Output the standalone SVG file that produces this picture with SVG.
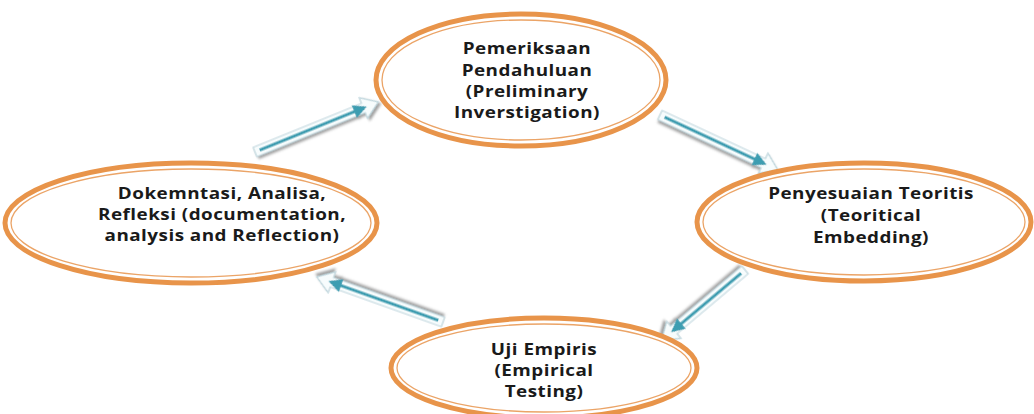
<svg xmlns="http://www.w3.org/2000/svg" width="1034" height="414" viewBox="0 0 1034 414">
<style>
.outer{fill:#ffffff;stroke:#e8944a;stroke-width:5}
.inner{fill:none;stroke:#eba467;stroke-width:1.3}
.lbl{font-family:"Open Sans","Liberation Sans",sans-serif;font-weight:bold;font-size:16px;fill:#1a1a1a;text-anchor:middle;letter-spacing:0.4px}
.blk{fill:#f7fcfd;stroke:#bfd6dd;stroke-width:1.2}
.shaft{stroke:#3e9db1;stroke-width:3;fill:none;marker-end:url(#hd)}
</style>
<defs>
<marker id="hd" viewBox="0 0 10 10" refX="8" refY="5" markerWidth="4.5" markerHeight="4.5" orient="auto" markerUnits="strokeWidth">
<path d="M0,0 L10,5 L0,10 Z" fill="#3e9db1"/>
</marker>
<filter id="sh" x="-20%" y="-50%" width="140%" height="200%">
<feDropShadow dx="1.5" dy="2.5" stdDeviation="0.8" flood-color="#8a8a8a" flood-opacity="0.8"/>
</filter>
</defs>
<rect width="1034" height="414" fill="#ffffff"/>
<g id="connectors">
<g id="arrow-left-top" transform="translate(255,152) rotate(-22.1)" filter="url(#sh)">
<polygon class="blk" points="0,-5 117,-5 117,-11 133,0 117,11 117,5 0,5"/>
<line class="shaft" x1="5" y1="0" x2="118" y2="0"/>
</g>
<g id="arrow-top-right" transform="translate(660,115) rotate(25)" filter="url(#sh)">
<polygon class="blk" points="0,-5 114,-5 114,-11 130,0 114,11 114,5 0,5"/>
<line class="shaft" x1="5" y1="0" x2="115" y2="0"/>
</g>
<g id="arrow-right-bottom" transform="translate(745,270) rotate(139.9)" filter="url(#sh)">
<polygon class="blk" points="0,-5 93,-5 93,-11 109,0 93,11 93,5 0,5"/>
<line class="shaft" x1="5" y1="0" x2="94" y2="0"/>
</g>
<g id="arrow-bottom-left" transform="translate(443,322) rotate(199.65)" filter="url(#sh)">
<polygon class="blk" points="0,-5 118,-5 118,-11 134,0 118,11 118,5 0,5"/>
<line class="shaft" x1="5" y1="0" x2="119" y2="0"/>
</g>
</g>
<g id="node-top">
<ellipse class="outer" cx="521" cy="80" rx="145" ry="66"/>
<ellipse class="inner" cx="521" cy="80" rx="139" ry="60"/>
<g transform="translate(527,0) scale(1.18,1)">
<text class="lbl" x="0" y="54">Pemeriksaan</text>
<text class="lbl" x="0" y="76">Pendahuluan</text>
<text class="lbl" x="0" y="97">(Preliminary</text>
<text class="lbl" x="0" y="118">Inverstigation)</text>
</g>
</g>
<g id="node-left">
<ellipse class="outer" cx="191" cy="223" rx="186" ry="60"/>
<ellipse class="inner" cx="191" cy="223" rx="180" ry="54"/>
<g transform="translate(222,0) scale(1.18,1)">
<text class="lbl" x="0" y="199">Dokemntasi, Analisa,</text>
<text class="lbl" x="0" y="220">Refleksi (documentation,</text>
<text class="lbl" x="0" y="241">analysis and Reflection)</text>
</g>
</g>
<g id="node-right">
<ellipse class="outer" cx="864" cy="222" rx="167" ry="59"/>
<ellipse class="inner" cx="864" cy="222" rx="161" ry="53"/>
<g transform="translate(871,0) scale(1.18,1)">
<text class="lbl" x="0" y="199">Penyesuaian Teoritis</text>
<text class="lbl" x="0" y="221">(Teoritical</text>
<text class="lbl" x="0" y="243">Embedding)</text>
</g>
</g>
<g id="node-bottom">
<ellipse class="outer" cx="544" cy="368" rx="153" ry="50"/>
<ellipse class="inner" cx="544" cy="368" rx="147" ry="44"/>
<g transform="translate(544,0) scale(1.18,1)">
<text class="lbl" x="0" y="355">Uji Empiris</text>
<text class="lbl" x="0" y="376">(Empirical</text>
<text class="lbl" x="0" y="397">Testing)</text>
</g>
</g>
</svg>
